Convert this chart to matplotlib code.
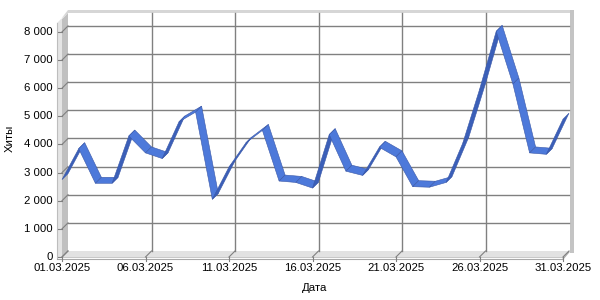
import matplotlib
matplotlib.use("Agg")
import matplotlib.pyplot as plt
from matplotlib.patches import Polygon
from matplotlib.transforms import IdentityTransform
import numpy as np

# ---- data ----
days = list(range(1, 32))
hits = [2750, 3850, 2620, 2620, 4300, 3700, 3500, 4800, 5150, 2050,
        3200, 4050, 4500, 2700, 2650, 2450, 4350, 3050, 2900, 3900,
        3560, 2500, 2480, 2650, 4050, 5950, 8020, 6150, 3700, 3650, 4900]
date_labels = ["%02d.03.2025" % d for d in days]
xtick_days = [1, 6, 11, 16, 21, 26, 31]
yticks = [0, 1000, 2000, 3000, 4000, 5000, 6000, 7000, 8000]
ytick_labels = ["0", "1 000", "2 000", "3 000", "4 000", "5 000", "6 000", "7 000", "8 000"]
ymax = 8460
x_title = "Дата"
y_title = "Хиты"

plt.rcParams['font.family'] = ['Liberation Sans', 'DejaVu Sans']
FS = 8.2

W, H, DPI = 600, 300, 100
fig = plt.figure(figsize=(W / DPI, H / DPI), dpi=DPI)
L, R, B, T = 62, 563, 257, 19   # front plane in pixels (top-origin y)
ax = fig.add_axes([L / W, (H - B) / H, (R - L) / W, (B - T) / H])
ax.set_xlim(days[0], days[-1])
ax.set_ylim(0, ymax)
ax.patch.set_visible(False)
for s in ax.spines.values():
    s.set_visible(False)

D = 6.0  # depth offset in pixels
idt = IdentityTransform()


def fp(x, v):
    return ax.transData.transform((x, v))


def bp(x, v):
    p = fp(x, v)
    return p + np.array([D, D])


def poly(pts, fc, ec='none', lw=0, z=1):
    ax.add_patch(Polygon(pts, closed=True, facecolor=fc, edgecolor=ec, lw=lw,
                         transform=idt, clip_on=False, zorder=z))


def line(p1, p2, c='#808080', lw=1.0, z=2):
    ax.add_line(plt.Line2D([p1[0], p2[0]], [p1[1], p2[1]], color=c, lw=lw,
                           transform=idt, clip_on=False, zorder=z))


x0, x1 = days[0], days[-1]
# back wall top band and right band
bl, br = bp(x0, 0), bp(x1, 0)
tl, tr = bp(x0, ymax), bp(x1, ymax)
poly([fp(x0, ymax) + [-1, 0], tl + [0, 3], tr + [4, 3], tr + [4, 0], tl], '#d6d6d6', z=1)
poly([br + [1, 0], tr + [1, 3], tr + [5, 3], br + [5, -2], br + [1, -2]], '#c4c4c4', z=1)

# left wall
poly([fp(x0, 0), bp(x0, 0), bp(x0, ymax), fp(x0, ymax)], '#c0c0c0', z=1)
poly([fp(x0, 0) + [-5, -1], fp(x0, 0), fp(x0, ymax), fp(x0, ymax) + [-1, 0],
      fp(x0, ymax) + [-5, -4]], '#e4e4e4', z=1)
line(fp(x0, 0) + [-5, -1], fp(x0, ymax) + [-5, -4], '#bdbdbd', 0.8, 1)

# floor
poly([fp(x0, 0), fp(x1, 0), bp(x1, 0), bp(x0, 0)], '#e2e2e2', z=1)
poly([fp(x0, 0) + [-5, -1], fp(x1, 0) + [0, -1], bp(x1, 0) + [0, -1],
      bp(x1, 0), fp(x1, 0), fp(x0, 0)], '#c8c8c8', z=1)
line(fp(x0, 0) + [-5, -2], fp(x1, 0) + [0, -2], '#a8a8a8', 0.8, 1)
line(fp(x1, 0) + [0, -2], bp(x1, 0) + [0, -1], '#a8a8a8', 0.8, 1)

# gridlines
for v in yticks:
    if v > 0:
        line(bp(x0, v), bp(x1, v), '#808080', 1.0, 2)
    line(fp(x0, v), bp(x0, v), '#808080', 0.8, 2)
    line(fp(x0, v) + [-4, 0], fp(x0, v), '#808080', 0.8, 2)
for d in xtick_days:
    if x0 < d < x1:
        line(bp(d, 0), bp(d, ymax), '#808080', 1.0, 2)
    line(fp(d, 0), bp(d, 0), '#808080', 0.8, 2)
    line(fp(d, 0) + [0, -4], fp(d, 0), '#808080', 0.8, 2)

# ribbon
light, dark, edge = '#4d79da', '#3b5fb8', '#3a58a8'
for i in range(len(days) - 1):
    p0, p1 = fp(days[i], hits[i]), fp(days[i + 1], hits[i + 1])
    q0, q1 = p0 + [D, D], p1 + [D, D]
    dx, dy = p1 - p0
    fc = light if (dx - dy) > 0 else dark
    poly([p0, p1, q1, q0], fc, edge, 0.4, 5 + i * 0.01)

# tick labels
ax.set_xticks([])
ax.set_yticks([])
for v, lab in zip(yticks, ytick_labels):
    p = fp(x0, v)
    ax.text(p[0] - 9, p[1], lab, transform=idt, ha='right', va='center',
            fontsize=FS, color='black')
for d in xtick_days:
    p = fp(d, 0)
    ax.text(p[0], p[1] - 6, date_labels[d - 1], transform=idt, ha='center',
            va='top', fontsize=FS, color='black')

fig.text(10 / W, 1 - 138 / H, y_title, rotation=90, ha='center', va='center',
         fontsize=FS)
fig.text(315 / W, 1 - 288 / H, x_title, ha='center', va='center', fontsize=FS)

fig.savefig("out.png", dpi=DPI)
